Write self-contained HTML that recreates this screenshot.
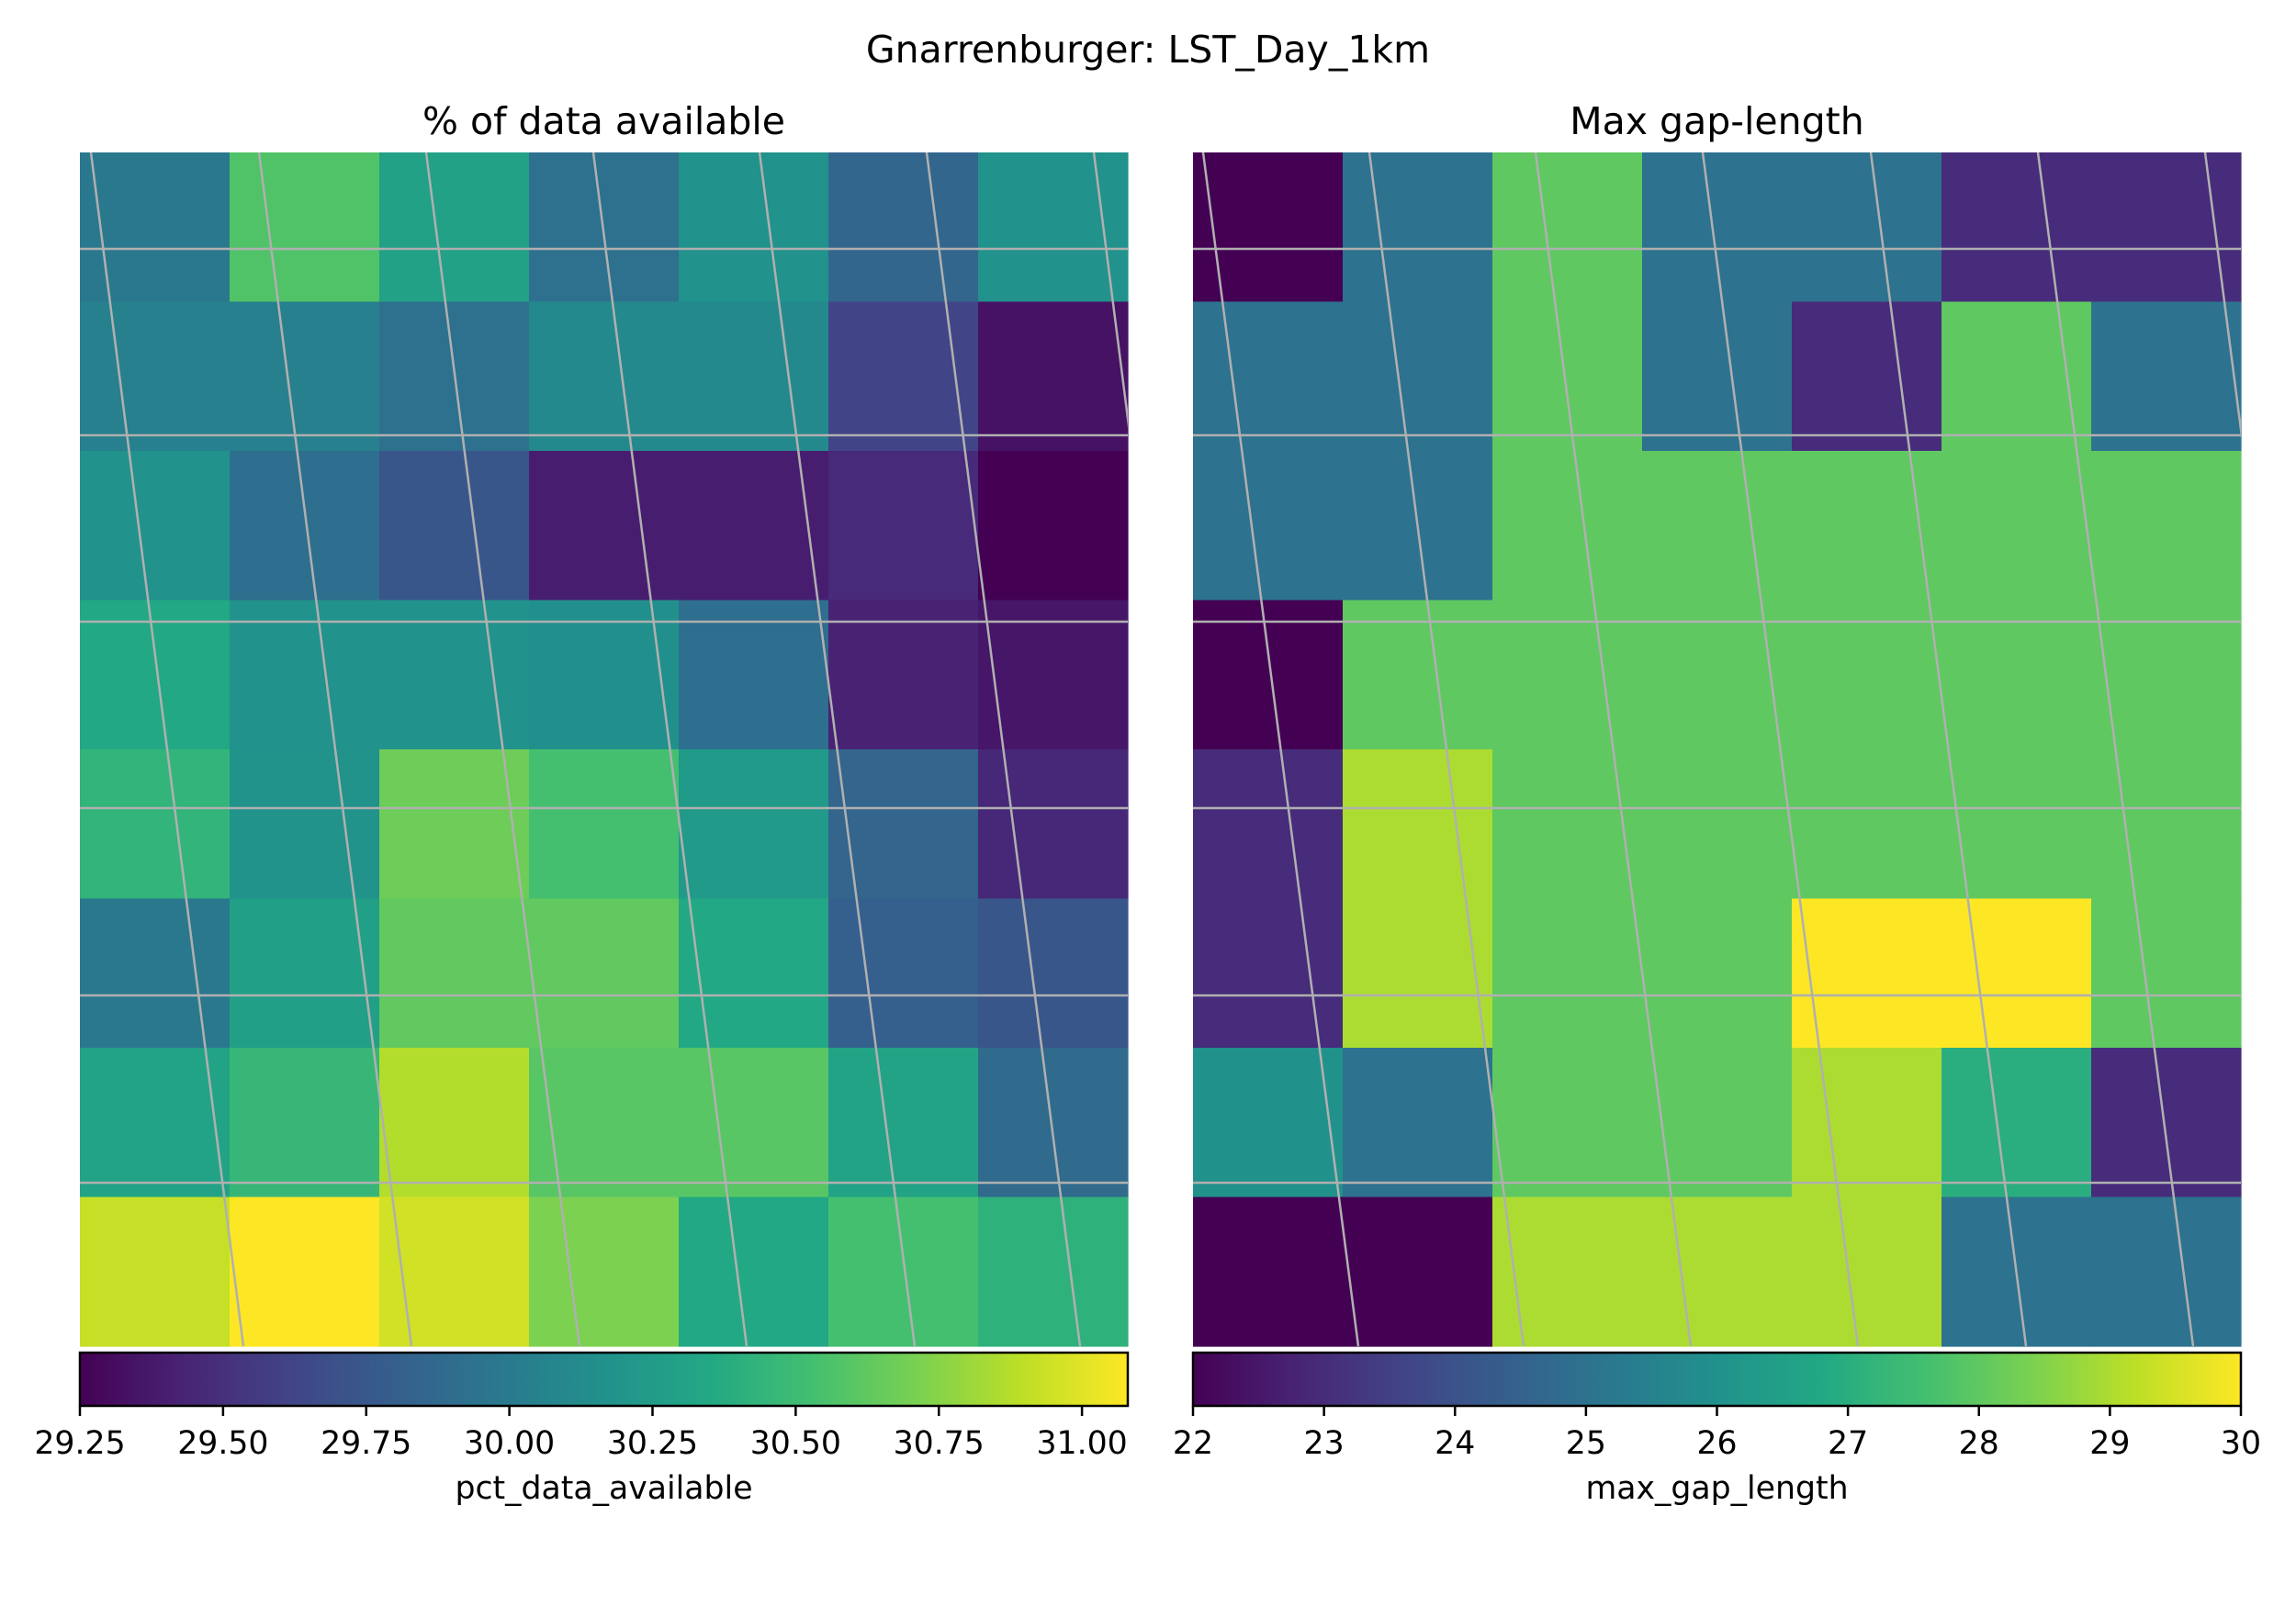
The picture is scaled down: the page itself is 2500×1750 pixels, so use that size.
<!DOCTYPE html>
<html><head><meta charset="utf-8"><style>
html,body{margin:0;padding:0;background:#fff;}
svg{display:block;font-family:"DejaVu Sans","Liberation Sans",sans-serif;}
</style></head><body>
<svg id="fig" width="2500" height="1750" viewBox="0 0 2500 1750" xmlns="http://www.w3.org/2000/svg">
<rect width="2500" height="1750" fill="#fff"/>
<text x="1250" y="68" font-size="41" text-anchor="middle">Gnarrenburger: LST_Day_1km</text>
<defs>
<clipPath id="clipL"><rect x="87" y="166" width="1141" height="1300"/></clipPath>
<clipPath id="clipR"><rect x="1299" y="166" width="1141" height="1300"/></clipPath>
</defs>
<g id="layer"></g>
</svg>
<script>
// Left panel: pct_data_available (rows top to bottom)
const pctRow0=[29.98,30.57,30.29,29.93,30.17,29.85,30.17];
const pctRow1=[30.04,30.04,29.93,30.11,30.11,29.62,29.34];
const pctRow2=[30.17,29.91,29.74,29.40,29.40,29.47,29.25];
const pctRow3=[30.35,30.17,30.17,30.16,29.91,29.43,29.36];
const pctRow4=[30.44,30.18,30.67,30.53,30.24,29.84,29.45];
const pctRow5=[29.98,30.28,30.63,30.63,30.35,29.80,29.74];
const pctRow6=[30.31,30.46,30.87,30.60,30.60,30.31,29.89];
const pctRow7=[30.92,31.08,30.95,30.72,30.35,30.53,30.42];
// Right panel: max_gap_length
const gapRow0=[22,25,28,25,25,23,23];
const gapRow1=[25,25,28,25,23,28,25];
const gapRow2=[25,25,28,28,28,28,28];
const gapRow3=[22,28,28,28,28,28,28];
const gapRow4=[23,29,28,28,28,28,28];
const gapRow5=[23,29,28,28,30,30,28];
const gapRow6=[26,25,28,28,29,27,23];
const gapRow7=[22,22,29,29,29,25,25];
const pctRange=[29.25,31.08];
const gapRange=[22,30];
const pctTicks=["29.25","29.50","29.75","30.00","30.25","30.50","30.75","31.00"];
const gapTicks=["22","23","24","25","26","27","28","29","30"];

const pctData=[pctRow0,pctRow1,pctRow2,pctRow3,pctRow4,pctRow5,pctRow6,pctRow7];
const gapData=[gapRow0,gapRow1,gapRow2,gapRow3,gapRow4,gapRow5,gapRow6,gapRow7];

const VIR=["#440154","#482475","#414487","#355f8d","#2a788e","#21918c","#22a884","#44bf70","#7ad151","#bddf26","#fde725"];
function hex(h){return [1,3,5].map(i=>parseInt(h.substr(i,2),16));}
function viridis(t){t=Math.max(0,Math.min(1,t));const s=t*(VIR.length-1);const i=Math.min(Math.floor(s),VIR.length-2);const f=s-i;
 const a=hex(VIR[i]),b=hex(VIR[i+1]);return "rgb("+a.map((v,k)=>Math.round(v+(b[k]-v)*f)).join(",")+")";}

const NS="http://www.w3.org/2000/svg";
const layer=document.getElementById('layer');
function el(tag,attrs,parent){const e=document.createElementNS(NS,tag);for(const k in attrs)e.setAttribute(k,attrs[k]);(parent||layer).appendChild(e);return e;}

const PW=1141,PH=1300,TOP=166,ROWS=8,COLS=7;
const CBY=1473,CBH=58;

function panel(x0,data,range,ticks,tickVals,title,label,clip,topX,botX,key){
 const g=el('g',{});
 
 
 const t=el('text',{x:x0+PW/2,y:146,'font-size':41,'text-anchor':'middle'},g);
 
 
 t.textContent=title;
 const xs=c=>x0+c*PW/COLS, ys=r=>TOP+r*PH/ROWS;
 const norm=v=>(v-range[0])/(range[1]-range[0]);
 const hm=el('g',{},g);
 
 
 data.forEach((row,r)=>row.forEach((v,c)=>{
  const rc=el('rect',{x:xs(c),y:ys(r),width:PW/COLS+0.6,height:PH/ROWS+0.6,fill:viridis(norm(v))},hm);
  
  
 }));
 const gr=el('g',{'clip-path':'url(#'+clip+')',stroke:'#b0b0b0','stroke-width':2.5,fill:'none'},g);
 
 
 [271,474,677,880,1084,1288].forEach(y=>{const l=el('line',{x1:x0,x2:x0+PW,y1:y,y2:y},gr);
  
  });
 topX.forEach((tx,i)=>{const l=el('line',{x1:tx,y1:TOP,x2:botX[i],y2:TOP+PH},gr);
  
  });
 const gid='grad'+key;
 const lg=el('linearGradient',{id:gid,x1:0,x2:1,y1:0,y2:0},g);
 for(let i=0;i<=20;i++)el('stop',{offset:i/20,'stop-color':viridis(i/20)},lg);
 const cb=el('rect',{x:x0,y:CBY,width:PW,height:CBH,fill:'url(#'+gid+')',stroke:'#000','stroke-width':2.5},g);
 
 
 ticks.forEach((lab,i)=>{const x=x0+norm(tickVals[i])*PW;
  el('line',{x1:x,x2:x,y1:CBY+CBH,y2:CBY+CBH+11,stroke:'#000','stroke-width':2.5},g);
  const tt=el('text',{x:x,y:1583,'font-size':34.7,'text-anchor':'middle'},g);
  
  
  tt.textContent=lab;});
 const lb=el('text',{x:x0+PW/2,y:1632,'font-size':34.7,'text-anchor':'middle'},g);
 
 
 lb.textContent=label;
}
panel(87,pctData,pctRange,pctTicks,pctTicks.map(Number),"% of data available","pct_data_available","clipL",
 [99,282,464,646,827,1009,1191],[265,448,631,813,996,1176,1357],'pct');
panel(1299,gapData,gapRange,gapTicks,gapTicks.map(Number),"Max gap-length","max_gap_length","clipR",
 [1310,1491,1672,1854,2037,2219,2401],[1479,1659,1841,2023,2206,2388,2569],'gap');
</script>
</body></html>
